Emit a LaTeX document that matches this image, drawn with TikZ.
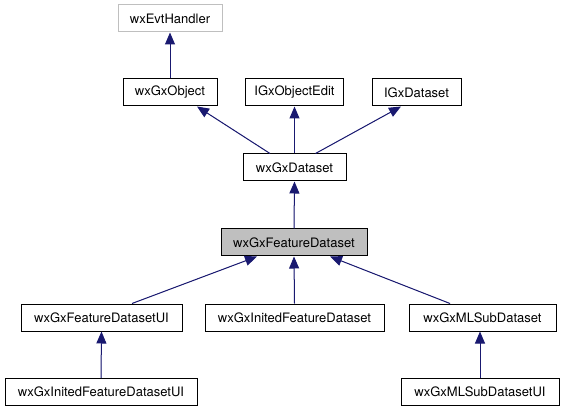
\documentclass[tikz,border=0pt]{standalone}
\usepackage{fontspec}
\setmainfont{TeX Gyre Heros}
\usepackage{xcolor}
\usetikzlibrary{arrows.meta,positioning,calc}

\definecolor{edgeblue}{HTML}{191970}
\definecolor{boxgrey}{HTML}{BFBFBF}

\begin{document}
\begin{tikzpicture}[
    x=1pt, y=1pt,
    cls/.style={rectangle, draw, line width=1pt, minimum height=27pt, inner sep=0pt, font=\fontsize{13}{15}\selectfont},
    ext/.style={cls, draw=boxgrey},
    cur/.style={cls, fill=boxgrey},
    inherit/.style={-{Triangle[length=12pt,width=10pt]}, line width=1pt, draw=edgeblue, fill=edgeblue}
]
    \useasboundingbox (0,0) rectangle (564,-411);

    % top rows
    \node[ext, minimum width=104pt] (evt) at (170,-18.5) {wxEvtHandler};
    \node[cls, minimum width=94pt] (gxobj) at (170,-92.5) {wxGxObject};
    \node[cls, minimum width=98pt] (objedit) at (294.5,-92.5) {IGxObjectEdit};
    \node[cls, minimum width=89pt] (igxds) at (416.5,-92.5) {IGxDataset};
    \node[cls, minimum width=103pt] (gxds) at (294.5,-167.5) {wxGxDataset};
    \node[cur, minimum width=146pt] (featds) at (294,-242.5) {wxGxFeatureDataset};

    % derived classes
    \node[cls, minimum width=161pt] (featui) at (101.5,-317.5) {wxGxFeatureDatasetUI};
    \node[cls, minimum width=179pt] (initds) at (294.5,-317.5) {wxGxInitedFeatureDataset};
    \node[cls, minimum width=147pt] (mlsub) at (482.5,-317.5) {wxGxMLSubDataset};
    \node[cls, minimum width=192pt] (initui) at (101,-392) {wxGxInitedFeatureDatasetUI};
    \node[cls, minimum width=158pt] (mlsubui) at (480,-392) {wxGxMLSubDatasetUI};

    \draw[inherit] (gxobj.north) -- (evt.south);
    \draw[inherit] ([xshift=-24.5pt]gxds.north) -- ([xshift=27pt]gxobj.south);
    \draw[inherit] (gxds.north) -- (objedit.south);
    \draw[inherit] ([xshift=21pt]gxds.north) -- ([xshift=-15.5pt]igxds.south);
    \draw[inherit] (featds.north) -- (gxds.south);
    \draw[inherit] ([xshift=30.5pt]featui.north) -- ([xshift=-37pt]featds.south);
    \draw[inherit] (initds.north) -- (featds.south);
    \draw[inherit] ([xshift=-32.5pt]mlsub.north) -- ([xshift=36pt]featds.south);
    \draw[inherit] (initui.north) -- (featui.south);
    \draw[inherit] (mlsubui.north) -- (mlsubui.north |- mlsub.south);
\end{tikzpicture}
\end{document}
